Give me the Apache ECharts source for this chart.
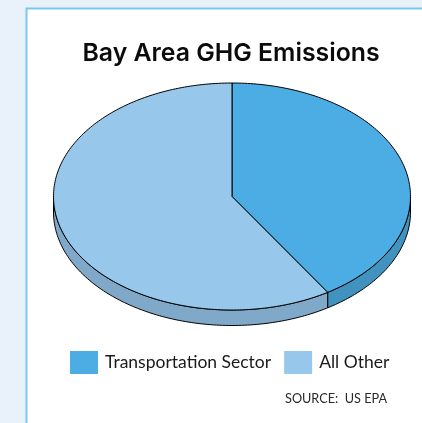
<!DOCTYPE html>
<html>
<head>
<meta charset="utf-8">
<script src="https://cdn.jsdelivr.net/npm/echarts@6/dist/echarts.min.js"></script>
<style>
html, body { margin: 0; padding: 0; background: #fff; }
#chart { width: 422px; height: 423px; }
</style>
</head>
<body>
<div id="chart"></div>
<script>
var categories = ['Transportation Sector', 'All Other']
var values = [41, 59]

var topColors = ['#4CADE4', '#97C7EB']
var wallColors = ['#4192BF', '#7FA8C9']

// pie is drawn tilted, so it is an ellipse plus a side wall
var cx = 232, cy = 196.5, rx = 178.5, ry = 113.5, depth = 15.5

var total = values.reduce(function (a, b) { return a + b }, 0)

function ellipsePoint (deg, dy) {
    var t = deg * Math.PI / 180
    return [cx + rx * Math.cos(t), cy + dy + ry * Math.sin(t)]
}

function renderSlice (index) {
    return function (params, api) {
        var before = 0
        for (var i = 0; i < index; i++) before += values[i]
        // start at 12 o'clock, clockwise
        var start = -90 + before / total * 360
        var end = start + api.value(0) / total * 360

        var top = [[cx, cy]]
        for (var a = start; a < end; a++) top.push(ellipsePoint(a, 0))
        top.push(ellipsePoint(end, 0))

        var children = []
        // wall only shows on the front half
        var wallStart = Math.max(start, 0), wallEnd = Math.min(end, 180)
        if (wallEnd > wallStart) {
            var wall = []
            for (var b = wallStart; b < wallEnd; b++) wall.push(ellipsePoint(b, 0))
            wall.push(ellipsePoint(wallEnd, 0))
            wall.push(ellipsePoint(wallEnd, depth))
            for (var c = wallEnd; c > wallStart; c--) wall.push(ellipsePoint(c, depth))
            wall.push(ellipsePoint(wallStart, depth))
            children.push({
                type: 'polygon',
                shape: { points: wall },
                style: { fill: wallColors[index], stroke: '#000', lineWidth: 1 }
            })
        }
        children.push({
            type: 'polygon',
            shape: { points: top },
            style: { fill: api.visual('color'), stroke: '#000', lineWidth: 1 }
        })
        return { type: 'group', children: children }
    }
}

var chart = echarts.init(document.getElementById('chart'))

var option = {
    animation: false,
    backgroundColor: '#E9F1FB',
    title: [
        {
            text: 'Bay Area GHG Emissions',
            left: 231,
            top: 41,
            padding: 0,
            textAlign: 'center',
            textStyle: { fontFamily: 'Inter', fontSize: 24.8, fontWeight: 600, color: '#0b0b0b' }
        },
        {
            text: 'SOURCE:  US EPA',
            left: 285,
            top: 392,
            padding: 0,
            textStyle: { fontFamily: 'Lato', fontSize: 12.7, fontWeight: 'normal', color: '#2a2a2a' }
        }
    ],
    legend: {
        data: categories,
        left: 70,
        top: 351,
        padding: 0,
        itemWidth: 28,
        itemHeight: 23,
        itemGap: 13,
        icon: 'rect',
        itemStyle: { borderWidth: 0 },
        textStyle: { fontFamily: 'Lato', fontSize: 17.5, color: '#1a1a1a', padding: [0, 0, 0, 2] }
    },
    graphic: [
        {
            type: 'rect',
            z: -1,
            shape: { x: 26.5, y: 8.5, width: 420, height: 430 },
            style: { fill: '#fff', stroke: '#7CC5EE', lineWidth: 2 },
            silent: true
        }
    ],
    series: categories.map(function (name, i) {
        return {
            name: name,
            type: 'custom',
            coordinateSystem: 'none',
            silent: true,
            itemStyle: { color: topColors[i] },
            renderItem: renderSlice(i),
            data: [[values[i]]]
        }
    })
}

chart.setOption(option)
</script>
</body>
</html>
